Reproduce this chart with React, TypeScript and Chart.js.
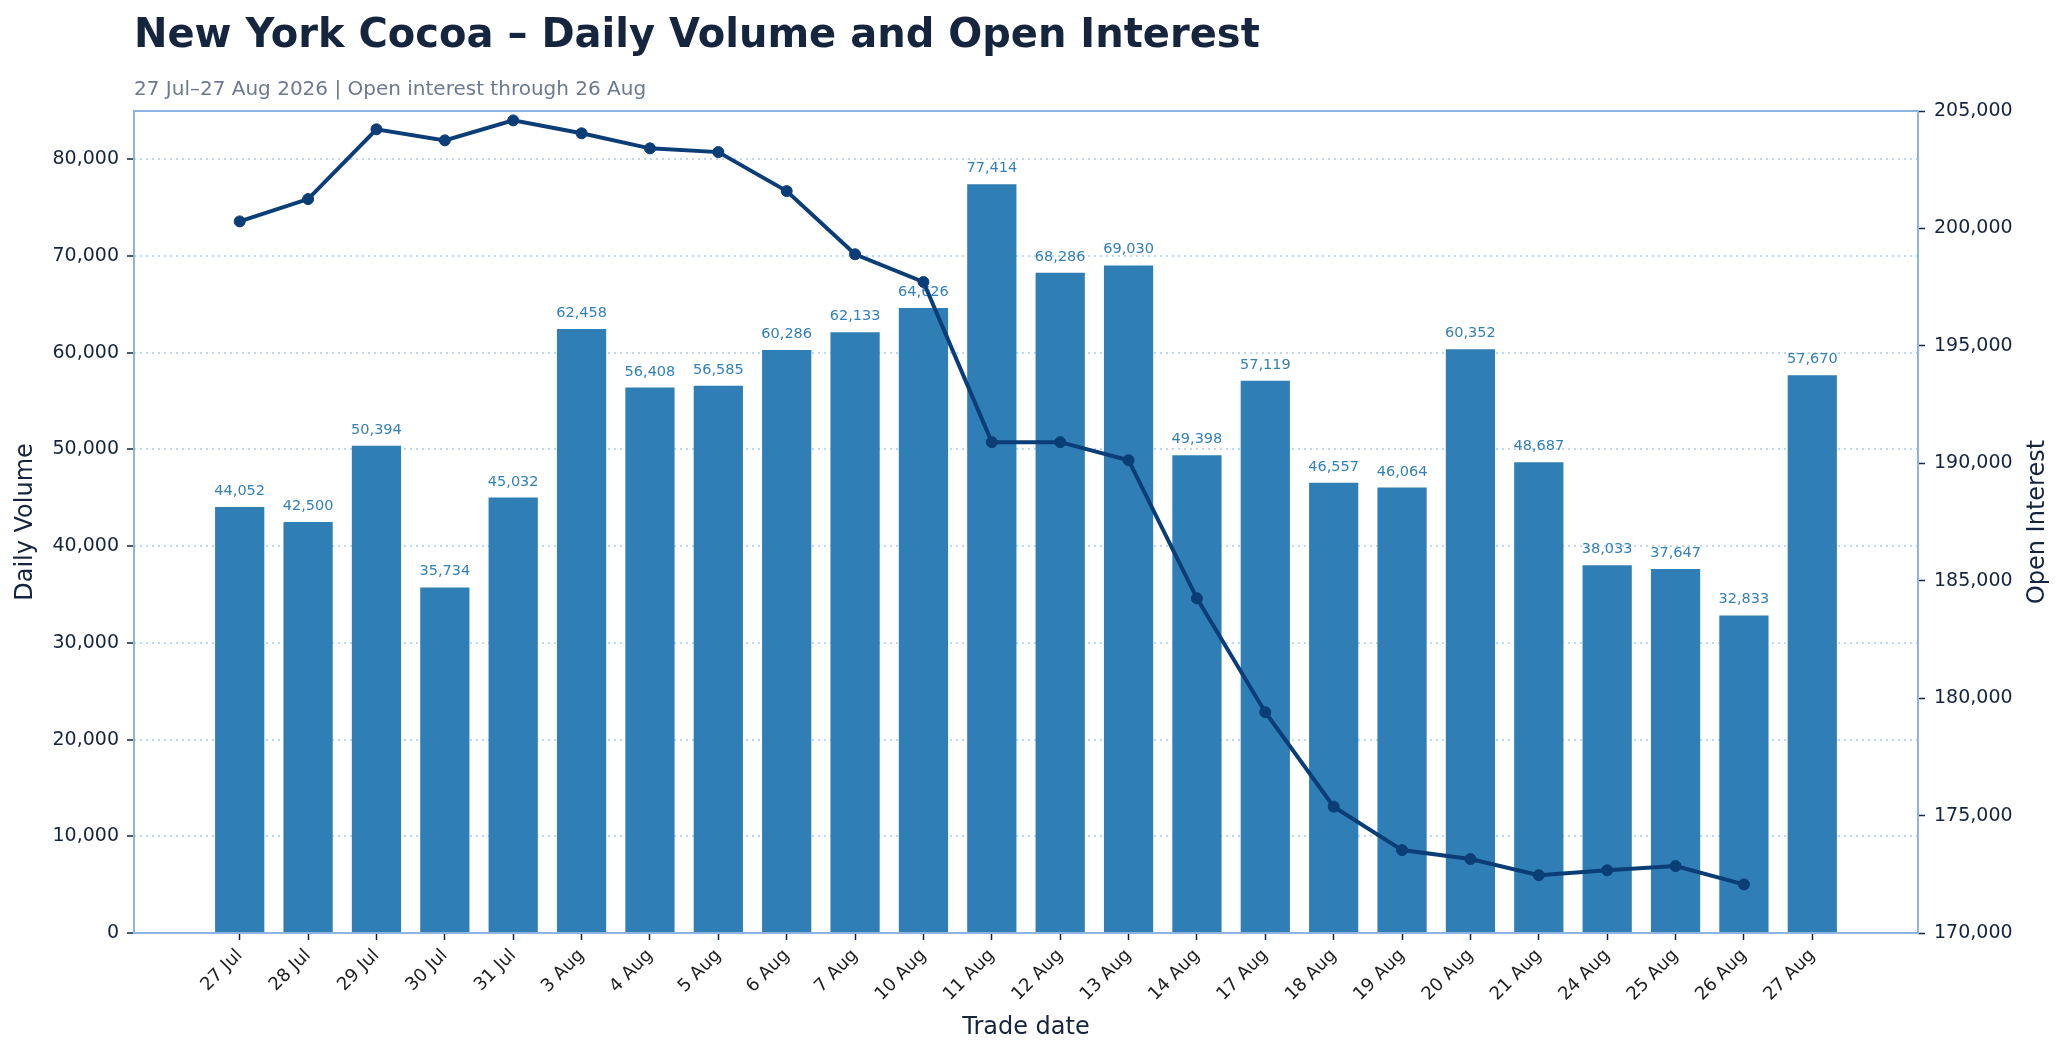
import React, { useEffect, useRef } from 'react';
import { Chart, registerables } from 'chart.js';

Chart.register(...registerables);

const DATES = [
  '27 Jul', '28 Jul', '29 Jul', '30 Jul', '31 Jul', '3 Aug', '4 Aug', '5 Aug',
  '6 Aug', '7 Aug', '10 Aug', '11 Aug', '12 Aug', '13 Aug', '14 Aug', '17 Aug',
  '18 Aug', '19 Aug', '20 Aug', '21 Aug', '24 Aug', '25 Aug', '26 Aug', '27 Aug',
];

const VOLUME = [
  44052, 42500, 50394, 35734, 45032, 62458, 56408, 56585,
  60286, 62133, 64626, 77414, 68286, 69030, 49398, 57119,
  46557, 46064, 60352, 48687, 38033, 37647, 32833, 57670,
];

// open interest is only published through 26 Aug
const OPEN_INTEREST = [
  200300, 201250, 204220, 203750, 204600, 204050, 203410, 203250,
  201590, 198900, 197720, 190900, 190900, 190130, 184250, 179400,
  175380, 173530, 173150, 172460, 172670, 172850, 172070,
];

const VOLUME_TICKS = [0, 10000, 20000, 30000, 40000, 50000, 60000, 70000, 80000];
const OI_TICKS = [170000, 175000, 180000, 185000, 190000, 195000, 200000, 205000];

const TITLE = 'New York Cocoa – Daily Volume and Open Interest';
const SUBTITLE = '27 Jul–27 Aug 2026 | Open interest through 26 Aug';

const FONT = '"DejaVu Sans", sans-serif';
const BAR = '#2f7eb5';
const LINE = '#0b3d77';
const LABEL = '#3281b9';
const NAVY = '#14253d';
const SPINE = '#8cb4e2';

const fmt = (v: number) => v.toLocaleString('en-US');

const annotate = {
  id: 'annotate',
  afterDatasetDraw(chart: any, args: any) {
    if (args.index !== 0) return;
    const ctx = chart.ctx;
    ctx.save();
    ctx.font = `14.5px ${FONT}`;
    ctx.fillStyle = LABEL;
    ctx.textAlign = 'center';
    ctx.textBaseline = 'alphabetic';
    args.meta.data.forEach((bar: any, i: number) => {
      ctx.fillText(fmt(VOLUME[i]), bar.x, bar.y - 12);
    });
    ctx.restore();
  },
  afterDraw(chart: any) {
    const { ctx, chartArea: a } = chart;
    ctx.save();
    ctx.strokeStyle = SPINE;
    ctx.lineWidth = 2;
    ctx.strokeRect(a.left, a.top, a.right - a.left, a.bottom - a.top);

    ctx.fillStyle = NAVY;
    ctx.textAlign = 'left';
    ctx.textBaseline = 'alphabetic';
    ctx.font = `bold 40px ${FONT}`;
    ctx.fillText(TITLE, a.left, 47);
    ctx.fillStyle = '#6b7a8f';
    ctx.font = `20px ${FONT}`;
    ctx.fillText(SUBTITLE, a.left, 95);

    ctx.fillStyle = NAVY;
    ctx.font = `24px ${FONT}`;
    ctx.textAlign = 'center';
    ctx.textBaseline = 'middle';
    ctx.fillText('Trade date', (a.left + a.right) / 2, 1028);
    const midY = (a.top + a.bottom) / 2;
    [[26, 'Daily Volume'], [2038, 'Open Interest']].forEach(([x, t]) => {
      ctx.save();
      ctx.translate(x as number, midY);
      ctx.rotate(-Math.PI / 2);
      ctx.fillText(t as string, 0, 0);
      ctx.restore();
    });
    ctx.restore();
  },
};

const App: React.FC = () => {
  const canvasRef = useRef<HTMLCanvasElement>(null);

  useEffect(() => {
    if (!canvasRef.current) return;
    Chart.defaults.font.family = FONT;

    const chart = new Chart(canvasRef.current, {
      type: 'bar',
      data: {
        datasets: [
          {
            type: 'bar',
            label: 'Daily Volume',
            data: VOLUME.map((v, i) => ({ x: i, y: v })),
            backgroundColor: BAR,
            barPercentage: 0.72,
            categoryPercentage: 1,
            yAxisID: 'y',
            order: 2,
          },
          {
            type: 'line',
            label: 'Open Interest',
            data: OPEN_INTEREST.map((v, i) => ({ x: i, y: v })),
            borderColor: LINE,
            backgroundColor: LINE,
            borderWidth: 4,
            pointRadius: 5.5,
            pointBorderWidth: 1,
            pointBackgroundColor: LINE,
            pointBorderColor: LINE,
            tension: 0,
            yAxisID: 'y1',
            order: 1,
          },
        ] as any,
      },
      options: {
        animation: false,
        responsive: true,
        maintainAspectRatio: false,
        layout: { padding: { top: 111, left: 0, right: 0, bottom: 0 } },
        plugins: {
          legend: { display: false },
          tooltip: { enabled: false },
        },
        scales: {
          x: {
            type: 'linear',
            offset: false,
            min: -1.546,
            max: DATES.length - 1 + 1.546,
            afterBuildTicks: (scale: any) => {
              scale.ticks = DATES.map((_, i) => ({ value: i }));
            },
            afterFit: (scale: any) => {
              scale.height = 125;
            },
            border: { display: false },
            grid: {
              offset: false,
              drawOnChartArea: false,
              tickColor: NAVY,
              tickLength: 7,
              tickWidth: 1.5,
            },
            ticks: {
              autoSkip: false,
              minRotation: 45,
              maxRotation: 45,
              padding: 5,
              color: '#1e1e1e',
              font: { size: 18 },
              callback: (v: any) => DATES[v] ?? '',
            },
          },
          y: {
            position: 'left',
            min: 0,
            max: 85000,
            afterBuildTicks: (scale: any) => {
              scale.ticks = VOLUME_TICKS.map((value) => ({ value }));
            },
            afterFit: (scale: any) => {
              scale.width = 134;
            },
            border: { display: false, dash: [2, 4] },
            grid: {
              color: '#bfd8f1',
              lineWidth: 2,
              tickColor: NAVY,
              tickLength: 7,
              tickWidth: 1.5,
              tickBorderDash: [],
            },
            ticks: {
              padding: 8,
              color: NAVY,
              font: { size: 19 },
              callback: (v: any) => fmt(Number(v)),
            },
          },
          y1: {
            position: 'right',
            min: 170000,
            max: 205000,
            afterBuildTicks: (scale: any) => {
              scale.ticks = OI_TICKS.map((value) => ({ value }));
            },
            afterFit: (scale: any) => {
              scale.width = 148;
            },
            border: { display: false },
            grid: {
              drawOnChartArea: false,
              tickColor: NAVY,
              tickLength: 7,
              tickWidth: 1.5,
            },
            ticks: {
              padding: 9,
              color: NAVY,
              font: { size: 19 },
              callback: (v: any) => fmt(Number(v)),
            },
          },
        },
      } as any,
      plugins: [annotate],
    });

    return () => chart.destroy();
  }, []);

  return (
    <div style={{ position: 'fixed', top: 0, left: 0, width: '100vw', height: '100vh', background: '#ffffff' }}>
      <canvas ref={canvasRef} />
    </div>
  );
};

export default App;
